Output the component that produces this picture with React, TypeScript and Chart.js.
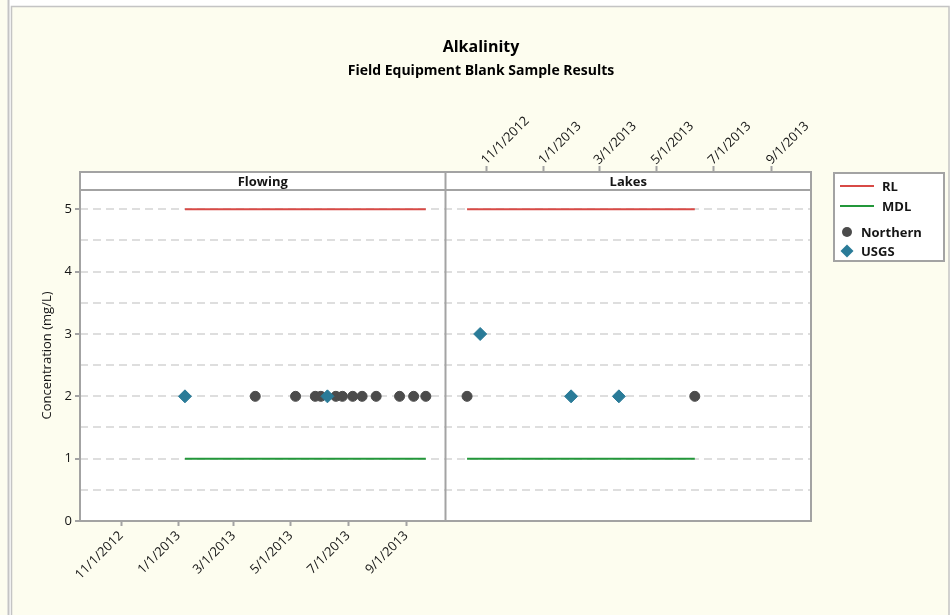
import { useEffect, useRef } from 'react';
import { Chart, registerables } from 'chart.js';

Chart.register(...registerables);

// ---------------- data ----------------
const chartTitle = 'Alkalinity';
const chartSubtitle = 'Field Equipment Blank Sample Results';
const yAxisTitle = 'Concentration (mg/L)';
const panelNames = ['Flowing', 'Lakes'];
const legendLabels = ['RL', 'MDL', 'Northern', 'USGS'];

const flowingNorthernDates = ['2013-03-24', '2013-05-06', '2013-05-27', '2013-06-02', '2013-06-18', '2013-06-25', '2013-07-06', '2013-07-16', '2013-07-31', '2013-08-25', '2013-09-09', '2013-09-22'];
const flowingNorthernValues = [2, 2, 2, 2, 2, 2, 2, 2, 2, 2, 2, 2];
const flowingUsgsDates = ['2013-01-08', '2013-06-09'];
const flowingUsgsValues = [2, 2];

const lakesNorthernDates = ['2012-10-11', '2013-06-11'];
const lakesNorthernValues = [2, 2];
const lakesUsgsDates = ['2012-10-25', '2013-01-30', '2013-03-22'];
const lakesUsgsValues = [3, 2, 2];

const rlValue = 5;
const mdlValue = 1;

const xTickLabels = ['11/1/2012', '1/1/2013', '3/1/2013', '5/1/2013', '7/1/2013', '9/1/2013'];
const xAxisRange = ['2012-09-18', '2013-10-13'];
const yTickValues = [0, 0.5, 1, 1.5, 2, 2.5, 3, 3.5, 4, 4.5, 5];
const yAxisRange = [0, 5.31];

// ---------------- helpers ----------------
const FONT = "'Open Sans', 'Noto Sans', sans-serif";
const PAGE_BG = '#fdfdef';
const FRAME = '#a3a3a3';
const TEXT = '#151515';
const RL_COLOR = '#d84a46';
const MDL_COLOR = '#23973a';
const NORTHERN_COLOR = '#4b4b4b';
const USGS_COLOR = '#2a7b98';
const STRIP_H = 18;

const toTime = (iso: string) => {
  const [y, m, d] = iso.split('-').map(Number);
  return Date.UTC(y, m - 1, d);
};
const labelToTime = (s: string) => {
  const [m, d, y] = s.split('/').map(Number);
  return Date.UTC(y, m - 1, d);
};
const xTickTimes = xTickLabels.map(labelToTime);
const pts = (dates: string[], vals: number[]) => dates.map((d, i) => ({ x: toTime(d), y: vals[i] }));
const span = (dates: string[]) => {
  const t = dates.map(toTime);
  return [Math.min(...t), Math.max(...t)];
};

const flowSpan = span([...flowingNorthernDates, ...flowingUsgsDates]);
const lakeSpan = span([...lakesNorthernDates, ...lakesUsgsDates]);

const lineDs = (label: string, axis: string, s: number[], v: number, color: string) => ({
  label,
  xAxisID: axis,
  yAxisID: 'y',
  data: [{ x: s[0], y: v }, { x: s[1], y: v }],
  showLine: true,
  borderColor: color,
  backgroundColor: color,
  borderWidth: 2,
  pointRadius: 0,
  fill: false,
  order: 2,
});

const pointDs = (label: string, axis: string, data: any[], color: string, style: string, r: number, order: number) => ({
  label,
  xAxisID: axis,
  yAxisID: 'y',
  data,
  showLine: false,
  pointStyle: style,
  pointRadius: r,
  pointHoverRadius: r,
  backgroundColor: color,
  borderColor: color,
  borderWidth: 1,
  order,
});

const xAxis = (position: string, stack: string, weight: number, show: boolean, tickLength: number, height: number) => ({
  type: 'linear',
  axis: 'x',
  position,
  stack,
  stackWeight: 1,
  weight,
  min: toTime(xAxisRange[0]),
  max: toTime(xAxisRange[1]),
  afterBuildTicks: (s: any) => {
    s.ticks = xTickTimes.map((v) => ({ value: v }));
  },
  afterFit: (s: any) => {
    s.height = height;
  },
  border: { display: false },
  grid: {
    display: show,
    drawOnChartArea: false,
    drawTicks: true,
    tickLength,
    tickWidth: 2,
    tickColor: FRAME,
  },
  ticks: {
    display: show,
    autoSkip: false,
    minRotation: 45,
    maxRotation: 45,
    padding: position === 'top' ? -2 : 2,
    labelOffset: position === 'top' ? 8 : 0,
    color: TEXT,
    font: { size: 13, family: FONT },
    callback: (_v: any, i: number) => xTickLabels[i],
  },
});

const framePlugin = {
  id: 'panelFrame',
  beforeDraw(chart: any) {
    const { ctx, width, height, chartArea: ca } = chart;
    ctx.save();
    ctx.fillStyle = '#ffffff';
    ctx.fillRect(0, 0, width, height);
    ctx.fillStyle = PAGE_BG;
    ctx.fillRect(0, 0, 7.5, height);
    ctx.fillRect(11, 6, 938, height - 6);
    ctx.strokeStyle = '#c4c4c4';
    ctx.lineWidth = 2;
    ctx.beginPath();
    ctx.moveTo(8.5, 0);
    ctx.lineTo(8.5, height);
    ctx.stroke();
    ctx.lineWidth = 1.5;
    ctx.beginPath();
    ctx.moveTo(11.5, height);
    ctx.lineTo(11.5, 6.5);
    ctx.lineTo(949, 6.5);
    ctx.lineTo(949, height);
    ctx.stroke();
    ctx.fillStyle = '#ffffff';
    ctx.fillRect(ca.left, ca.top - STRIP_H, ca.right - ca.left, ca.bottom - ca.top + STRIP_H);
    ctx.restore();
  },
  afterDraw(chart: any) {
    const { ctx, chartArea: ca, scales } = chart;
    const top = ca.top - STRIP_H;
    const divider = scales.xF.right;
    ctx.save();
    // strip
    ctx.fillStyle = '#ffffff';
    ctx.fillRect(ca.left, top, ca.right - ca.left, STRIP_H);
    ctx.fillStyle = TEXT;
    ctx.font = `bold 13px ${FONT}`;
    ctx.textAlign = 'center';
    ctx.textBaseline = 'middle';
    ctx.fillText(panelNames[0], (scales.xF.left + scales.xF.right) / 2, top + STRIP_H / 2 + 1);
    ctx.fillText(panelNames[1], (scales.xLT.left + scales.xLT.right) / 2, top + STRIP_H / 2 + 1);
    // frame
    ctx.strokeStyle = FRAME;
    ctx.lineWidth = 2;
    ctx.strokeRect(ca.left, top, ca.right - ca.left, ca.bottom - top);
    ctx.beginPath();
    ctx.moveTo(ca.left, ca.top);
    ctx.lineTo(ca.right, ca.top);
    ctx.moveTo(divider, top);
    ctx.lineTo(divider, ca.bottom);
    ctx.stroke();

    // legend
    const lx = ca.right + 23;
    const ly = top + 1;
    ctx.fillStyle = '#ffffff';
    ctx.fillRect(lx, ly, 110, 88);
    ctx.strokeStyle = FRAME;
    ctx.lineWidth = 2;
    ctx.strokeRect(lx, ly, 110, 88);
    ctx.font = `bold 13px ${FONT}`;
    ctx.textAlign = 'left';
    ctx.textBaseline = 'middle';
    const rows = [ly + 13, ly + 33, ly + 59, ly + 78];
    const lineColors = [RL_COLOR, MDL_COLOR];
    for (let i = 0; i < 2; i++) {
      ctx.strokeStyle = lineColors[i];
      ctx.lineWidth = 2;
      ctx.beginPath();
      ctx.moveTo(lx + 6, rows[i]);
      ctx.lineTo(lx + 40, rows[i]);
      ctx.stroke();
      ctx.fillStyle = TEXT;
      ctx.fillText(legendLabels[i], lx + 48, rows[i] + 1);
    }
    ctx.fillStyle = NORTHERN_COLOR;
    ctx.beginPath();
    ctx.arc(lx + 13, rows[2], 5, 0, Math.PI * 2);
    ctx.fill();
    ctx.fillStyle = USGS_COLOR;
    ctx.beginPath();
    ctx.moveTo(lx + 13, rows[3] - 6.5);
    ctx.lineTo(lx + 19.5, rows[3]);
    ctx.lineTo(lx + 13, rows[3] + 6.5);
    ctx.lineTo(lx + 6.5, rows[3]);
    ctx.closePath();
    ctx.fill();
    ctx.fillStyle = TEXT;
    ctx.fillText(legendLabels[2], lx + 27, rows[2] + 1);
    ctx.fillText(legendLabels[3], lx + 27, rows[3] + 1);
    ctx.restore();
  },
};

export default function App() {
  const ref = useRef<HTMLCanvasElement | null>(null);

  useEffect(() => {
    if (!ref.current) return;
    const chart = new Chart(ref.current, {
      type: 'scatter',
      data: {
        datasets: [
          pointDs('USGS', 'xF', pts(flowingUsgsDates, flowingUsgsValues), USGS_COLOR, 'rectRot', 6.5, 0),
          pointDs('USGS', 'xLT', pts(lakesUsgsDates, lakesUsgsValues), USGS_COLOR, 'rectRot', 6.5, 0),
          pointDs('Northern', 'xF', pts(flowingNorthernDates, flowingNorthernValues), NORTHERN_COLOR, 'circle', 5, 1),
          pointDs('Northern', 'xLT', pts(lakesNorthernDates, lakesNorthernValues), NORTHERN_COLOR, 'circle', 5, 1),
          lineDs('RL', 'xF', flowSpan, rlValue, RL_COLOR),
          lineDs('MDL', 'xF', flowSpan, mdlValue, MDL_COLOR),
          lineDs('RL', 'xLT', lakeSpan, rlValue, RL_COLOR),
          lineDs('MDL', 'xLT', lakeSpan, mdlValue, MDL_COLOR),
        ] as any,
      },
      plugins: [framePlugin],
      options: {
        animation: false,
        responsive: false,
        devicePixelRatio: 1,
        layout: { padding: { left: 10, top: 0, right: 0, bottom: 0 } },
        font: { family: FONT },
        plugins: {
          legend: { display: false },
          tooltip: { enabled: false },
          title: {
            display: true,
            text: chartTitle,
            color: '#000',
            font: { size: 16, weight: 'bold', family: FONT },
            padding: { top: 38, bottom: 4 },
          },
          subtitle: {
            display: true,
            text: chartSubtitle,
            color: '#000',
            font: { size: 14, weight: 'bold', family: FONT },
            padding: { top: 1.5, bottom: 0 },
          },
        },
        scales: {
          xF: xAxis('bottom', 'b', 1, true, 5, 94),
          xL: xAxis('bottom', 'b', 2, false, 5, 94),
          xFT: xAxis('top', 't', 2, false, 24, 110.5),
          xLT: xAxis('top', 't', 1, true, 24, 110.5),
          y: {
            type: 'linear',
            axis: 'y',
            position: 'left',
            min: yAxisRange[0],
            max: yAxisRange[1],
            afterBuildTicks: (s: any) => {
              s.ticks = yTickValues.map((v) => ({ value: v }));
            },
            afterFit: (s: any) => {
              s.width = 70;
            },
            border: { display: false, dash: [8, 5] },
            grid: {
              color: (c: any) => (c.tick && c.tick.value === 0 ? 'rgba(0,0,0,0)' : '#dedede'),
              lineWidth: 2,
              drawTicks: true,
              tickLength: 5,
              tickWidth: 2,
              tickBorderDash: [],
              tickColor: (c: any) => (c.tick && Number.isInteger(c.tick.value) ? FRAME : 'rgba(0,0,0,0)'),
            },
            ticks: {
              autoSkip: false,
              padding: 3,
              color: TEXT,
              font: { size: 13, family: FONT },
              callback: (v: any) => (Number.isInteger(v) ? String(v) : ''),
            },
            title: {
              display: true,
              text: yAxisTitle,
              color: TEXT,
              font: { size: 13, family: FONT },
              padding: { top: 29, bottom: 0 },
            },
          },
          yR: {
            type: 'linear',
            axis: 'y',
            position: 'right',
            min: 0,
            max: 1,
            afterFit: (s: any) => {
              s.width = 141;
            },
            border: { display: false },
            grid: { display: false },
            ticks: { display: false },
          },
        },
      } as any,
    });
    return () => chart.destroy();
  }, []);

  return (
    <div style={{ position: 'fixed', left: 0, top: 0, width: 952, height: 615, background: PAGE_BG }}>
      <canvas ref={ref} width={952} height={615} style={{ display: 'block' }} />
    </div>
  );
}
